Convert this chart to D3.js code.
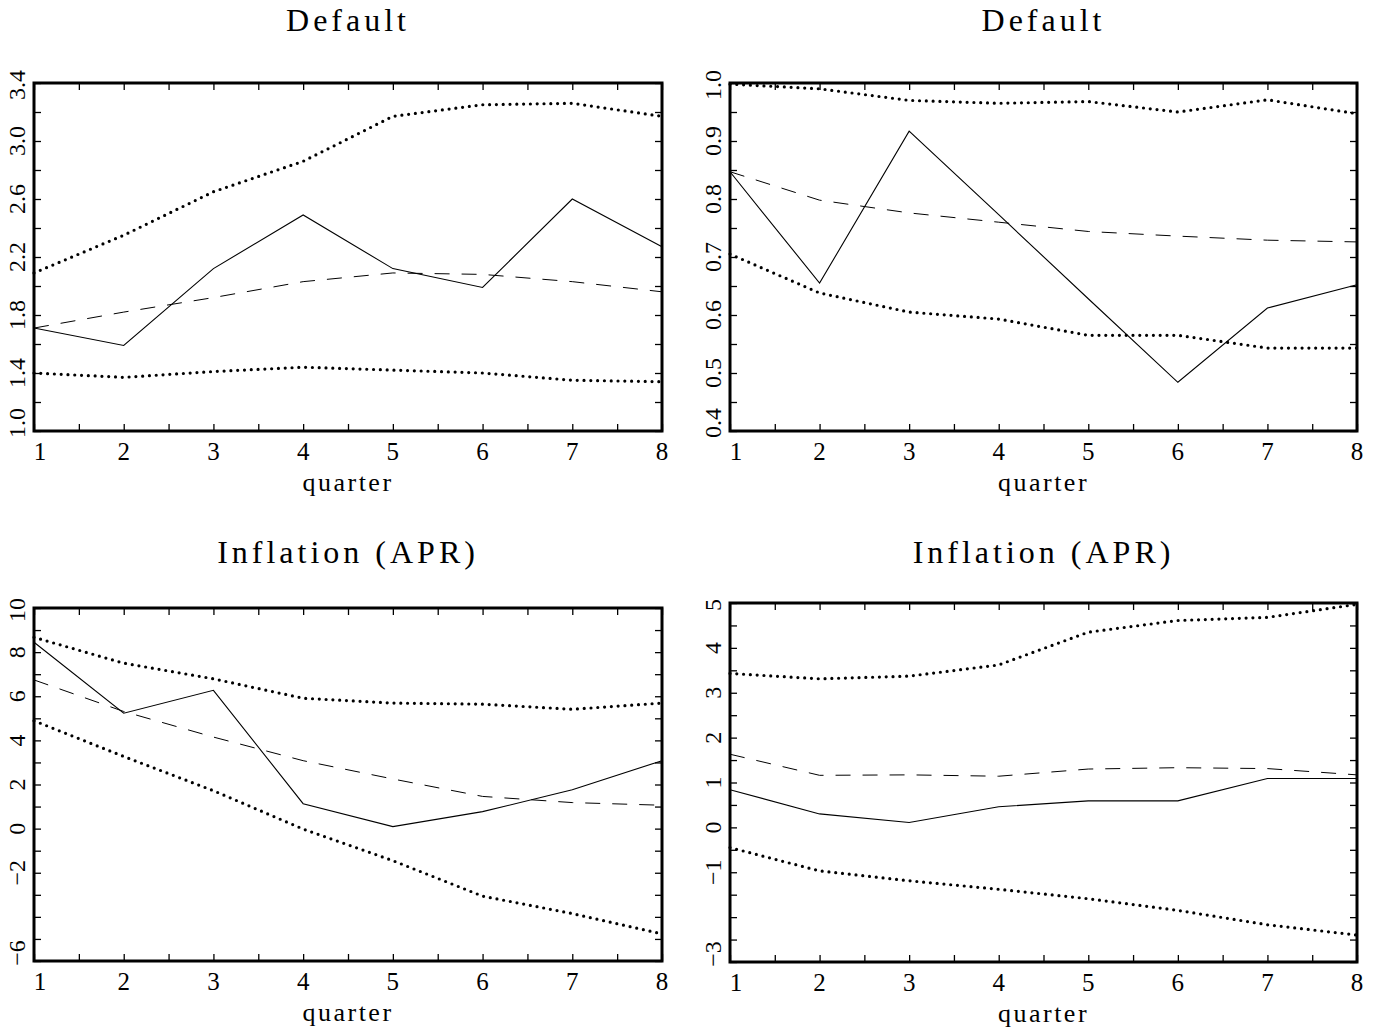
<!DOCTYPE html>
<html>
<body style="margin:0;background:#fff">

<script src="https://d3js.org/d3.v7.min.js"></script>
<style>
  text { font-family: "Liberation Serif", serif; fill: #000; }
  .tick line { stroke: #000; stroke-width: 1.3; }
</style>

<script>

var quarters = [1, 2, 3, 4, 5, 6, 7, 8];

// Default, left panel
var defLeftUpper = [2.09, 2.35, 2.65, 2.86, 3.17, 3.25, 3.26, 3.17];
var defLeftEst   = [1.71, 1.59, 2.12, 2.49, 2.12, 1.99, 2.60, 2.27];
var defLeftMean  = [1.71, 1.82, 1.92, 2.03, 2.09, 2.08, 2.03, 1.96];
var defLeftLower = [1.40, 1.37, 1.41, 1.44, 1.42, 1.40, 1.35, 1.34];
var defLeftLabels = ["1.0", "1.4", "1.8", "2.2", "2.6", "3.0", "3.4"];

// Default, right panel
var defRightUpper = [0.998, 0.990, 0.970, 0.965, 0.968, 0.950, 0.971, 0.947];
var defRightEst   = [0.847, 0.655, 0.917, 0.773, 0.628, 0.484, 0.612, 0.652];
var defRightMean  = [0.847, 0.798, 0.776, 0.760, 0.744, 0.736, 0.729, 0.726];
var defRightLower = [0.705, 0.638, 0.605, 0.593, 0.565, 0.565, 0.543, 0.543];
var defRightLabels = ["0.4", "0.5", "0.6", "0.7", "0.8", "0.9", "1.0"];

// Inflation (APR), left panel
var infLeftUpper = [8.67, 7.50, 6.79, 5.91, 5.69, 5.64, 5.41, 5.69];
var infLeftEst   = [8.45, 5.23, 6.27, 1.13, 0.09, 0.77, 1.76, 3.08];
var infLeftMean  = [6.74, 5.31, 4.15, 3.08, 2.25, 1.46, 1.18, 1.06];
var infLeftLower = [4.89, 3.27, 1.72, -0.02, -1.45, -3.06, -3.85, -4.77];
var infLeftLabels = ["−6", "−2", "0", "2", "4", "6", "8", "10"];

// Inflation (APR), right panel
var infRightUpper = [3.43, 3.31, 3.37, 3.62, 4.35, 4.61, 4.68, 4.97];
var infRightEst   = [0.84, 0.30, 0.11, 0.46, 0.59, 0.59, 1.09, 1.09];
var infRightMean  = [1.63, 1.16, 1.17, 1.14, 1.30, 1.33, 1.31, 1.17];
var infRightLower = [-0.45, -0.97, -1.19, -1.38, -1.59, -1.85, -2.17, -2.40];
var infRightLabels = ["−3", "−1", "0", "1", "2", "3", "4", "5"];

var panels = [
  {title: "Default", x0: 34, x1: 662, y0: 83, y1: 431, dom: [1.0, 3.4], step: 0.2,
   labels: defLeftLabels, up: defLeftUpper, est: defLeftEst, mean: defLeftMean, lo: defLeftLower, titleY: 31},
  {title: "Default", x0: 730, x1: 1357, y0: 83, y1: 431, dom: [0.4, 1.0], step: 0.05,
   labels: defRightLabels, up: defRightUpper, est: defRightEst, mean: defRightMean, lo: defRightLower, titleY: 31},
  {title: "Inflation (APR)", x0: 34, x1: 662, y0: 608, y1: 961, dom: [-6, 10], step: 1,
   labels: infLeftLabels, up: infLeftUpper, est: infLeftEst, mean: infLeftMean, lo: infLeftLower, titleY: 563},
  {title: "Inflation (APR)", x0: 730, x1: 1357, y0: 603, y1: 962, dom: [-3, 5], step: 0.5,
   labels: infRightLabels, up: infRightUpper, est: infRightEst, mean: infRightMean, lo: infRightLower, titleY: 563}
];

var svg = d3.select("body")
            .append("svg")
            .attr("width", 1382)
            .attr("height", 1033);

function parseLab(s) { return +s.replace("−", "-"); }

panels.forEach(function(p) {
  var x = d3.scaleLinear().domain([1, 8]).range([p.x0, p.x1]);
  var y = d3.scaleLinear().domain(p.dom).range([p.y1, p.y0]);

  var g = svg.append("g");

  var n = Math.round((p.dom[1] - p.dom[0]) / p.step);
  var yTicks = d3.range(n + 1).map(function(i) { return +(p.dom[0] + i * p.step).toFixed(3); });
  var xTicks = d3.range(1, 8.01, 0.5);
  var labVals = p.labels.map(parseLab);

  // ticks on all four sides, pointing in
  g.append("g").attr("transform", "translate(" + p.x0 + ",0)")
   .call(d3.axisLeft(y).tickValues(yTicks).tickSize(-7).tickFormat(""));
  g.append("g").attr("transform", "translate(" + p.x1 + ",0)")
   .call(d3.axisRight(y).tickValues(yTicks).tickSize(-7).tickFormat(""));
  g.append("g").attr("transform", "translate(0," + p.y1 + ")")
   .call(d3.axisBottom(x).tickValues(xTicks).tickSize(-7).tickFormat(""));
  g.append("g").attr("transform", "translate(0," + p.y0 + ")")
   .call(d3.axisTop(x).tickValues(xTicks).tickSize(-7).tickFormat(""));
  g.selectAll(".domain").remove();

  // y labels, rotated
  g.selectAll(".ylab")
   .data(labVals).enter()
   .append("text")
   .attr("text-anchor", "middle")
   .attr("font-size", 24)
   .attr("transform", function(d) {
     var yy = Math.min(Math.max(y(d), p.y0 + 2), p.y1 - 8);
     return "translate(" + (p.x0 - 9) + "," + yy + ") rotate(-90)";
   })
   .text(function(d, i) { return p.labels[i]; });

  // x labels
  g.selectAll(".xlab")
   .data(quarters).enter()
   .append("text")
   .attr("text-anchor", "middle")
   .attr("font-size", 25)
   .attr("x", function(d) { return d === 1 ? x(d) + 6 : x(d); })
   .attr("y", p.y1 + 29)
   .text(function(d) { return d; });

  g.append("text")
   .attr("text-anchor", "middle")
   .attr("font-size", 26)
   .attr("letter-spacing", 2.5)
   .attr("x", (p.x0 + p.x1) / 2)
   .attr("y", p.y1 + 60)
   .text("quarter");

  g.append("text")
   .attr("text-anchor", "middle")
   .attr("font-size", 32)
   .attr("letter-spacing", 4)
   .attr("x", (p.x0 + p.x1) / 2)
   .attr("y", p.titleY)
   .text(p.title);

  var line = d3.line()
               .x(function(d, i) { return x(quarters[i]); })
               .y(function(d) { return y(d); });

  [p.up, p.lo].forEach(function(s) {
    g.append("path")
     .attr("d", line(s))
     .attr("fill", "none")
     .attr("stroke", "#000")
     .attr("stroke-width", 3.2)
     .attr("stroke-linecap", "round")
     .attr("stroke-dasharray", "0,6.8");
  });

  g.append("path")
   .attr("d", line(p.mean))
   .attr("fill", "none")
   .attr("stroke", "#000")
   .attr("stroke-width", 1)
   .attr("stroke-dasharray", "15,12");

  g.append("path")
   .attr("d", line(p.est))
   .attr("fill", "none")
   .attr("stroke", "#000")
   .attr("stroke-width", 1.1);

  g.append("rect")
   .attr("x", p.x0)
   .attr("y", p.y0)
   .attr("width", p.x1 - p.x0)
   .attr("height", p.y1 - p.y0)
   .attr("fill", "none")
   .attr("stroke", "#000")
   .attr("stroke-width", 3);
});

</script>
</body>
</html>
